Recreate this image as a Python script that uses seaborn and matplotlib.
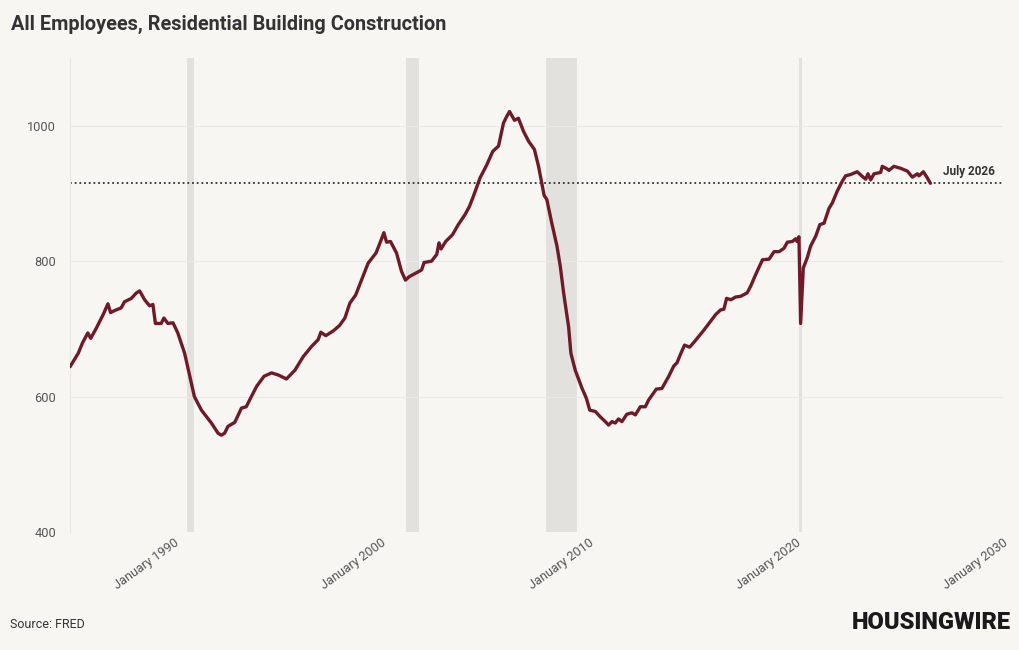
import numpy as np
import pandas as pd
import matplotlib
matplotlib.use("Agg")
import matplotlib.pyplot as plt
import seaborn as sns

# values (decimal year, thousands of employees)
years = [
    1985.00, 1985.40, 1985.60, 1985.86, 1986.00, 1986.27, 1986.60, 1986.83, 1986.96, 1987.15,
    1987.47, 1987.63, 1987.96, 1988.20, 1988.36, 1988.60, 1988.84, 1989.00, 1989.12, 1989.40,
    1989.53, 1989.72, 1989.97, 1990.20, 1990.53, 1990.85, 1991.00, 1991.34, 1991.82, 1992.14,
    1992.30, 1992.46, 1992.62, 1992.95, 1993.27, 1993.50, 1993.83, 1994.00, 1994.36, 1994.72,
    1995.04, 1995.44, 1995.85, 1996.25, 1996.65, 1996.97, 1997.10, 1997.34, 1997.70, 1998.00,
    1998.26, 1998.50, 1998.78, 1999.06, 1999.38, 1999.76, 1999.98, 2000.14, 2000.27, 2000.46,
    2000.75, 2000.99, 2001.18, 2001.36, 2001.72, 2001.96, 2002.08, 2002.44, 2002.69, 2002.80,
    2002.90, 2003.12, 2003.45, 2003.73, 2004.06, 2004.27, 2004.46, 2004.78, 2005.10, 2005.39,
    2005.67, 2005.91, 2006.07, 2006.20, 2006.44, 2006.63, 2006.87, 2007.12, 2007.40, 2007.60,
    2007.76, 2007.87, 2008.00, 2008.24, 2008.49, 2008.65, 2008.81, 2009.05, 2009.16, 2009.37,
    2009.70, 2009.90, 2010.07, 2010.34, 2010.58, 2010.82, 2010.98, 2011.14, 2011.30, 2011.46,
    2011.62, 2011.86, 2012.10, 2012.27, 2012.51, 2012.75, 2012.91, 2013.28, 2013.55, 2013.88,
    2014.12, 2014.28, 2014.44, 2014.64, 2014.89, 2015.09, 2015.33, 2015.57, 2015.89, 2016.14,
    2016.38, 2016.54, 2016.67, 2016.88, 2017.10, 2017.34, 2017.66, 2017.83, 2018.07, 2018.40,
    2018.72, 2018.96, 2019.20, 2019.44, 2019.60, 2019.84, 2020.00, 2020.07, 2020.16, 2020.24,
    2020.37, 2020.56, 2020.72, 2020.97, 2021.17, 2021.37, 2021.61, 2021.77, 2022.00, 2022.25,
    2022.41, 2022.66, 2022.97, 2023.22, 2023.38, 2023.49, 2023.62, 2023.78, 2024.10, 2024.18,
    2024.42, 2024.50, 2024.74, 2025.07, 2025.39, 2025.63, 2025.87, 2025.95, 2026.16, 2026.33,
    2026.50,
]
employees = [
    644, 664, 679, 694, 686, 701, 721, 737, 724, 727,
    731, 740, 745, 753, 756, 743, 734, 736, 708, 708,
    716, 708, 709, 694, 664, 620, 600, 580, 561, 546,
    543, 546, 556, 562, 583, 585, 605, 615, 630, 635,
    632, 626, 639, 659, 674, 684, 695, 690, 697, 705,
    716, 738, 750, 772, 797, 812, 829, 842, 828, 829,
    812, 785, 772, 777, 783, 787, 798, 800, 810, 827,
    818, 829, 839, 854, 869, 881, 896, 923, 942, 962,
    970, 1004, 1014, 1021, 1008, 1011, 992, 977, 965, 940,
    915, 897, 891, 856, 822, 792, 753, 703, 664, 639,
    612, 598, 580, 578, 570, 563, 558, 563, 561, 567,
    563, 574, 576, 573, 585, 585, 595, 611, 612, 630,
    645, 650, 662, 676, 673, 680, 689, 698, 711, 721,
    728, 729, 745, 743, 747, 748, 753, 763, 780, 802,
    803, 814, 814, 819, 828, 829, 833, 829, 836, 708,
    790, 805, 822, 837, 854, 856, 878, 886, 903, 918,
    926, 928, 932, 925, 921, 929, 920, 929, 931, 940,
    936, 934, 940, 937, 933, 924, 929, 926, 932, 924,
    915,
]

recession_start = [1990.66, 2001.20, 2007.95, 2020.15]
recession_end = [1991.00, 2001.83, 2009.45, 2020.32]

tick_years = [1990, 2000, 2010, 2020, 2030]
tick_labels = ["January " + str(y) for y in tick_years]
y_ticks = [400, 600, 800, 1000]

latest_label = "July 2026"

bg = "#f7f6f3"
line_color = "#6f1a28"

sns.set_theme(style="white")
plt.rcParams["font.family"] = ["Roboto", "DejaVu Sans"]

df = pd.DataFrame({"year": years, "employees": employees})

fig = plt.figure(figsize=(10.2, 6.5), dpi=100, facecolor=bg)
ax = fig.add_axes([0.0686, 0.1815, 0.9147, 0.7293])
ax.set_facecolor(bg)

for s, e in zip(recession_start, recession_end):
    ax.axvspan(s, e, color="#e2e1de", lw=0, zorder=0)

for yv in y_ticks:
    ax.axhline(yv, color="#ebe9e5", lw=0.8, zorder=0.5)

sns.lineplot(data=df, x="year", y="employees", color=line_color, lw=2.4, ax=ax, zorder=3)

last_val = employees[-1]
ax.axhline(last_val, color="#333333", lw=1.3, ls=(0, (1, 1.6)), zorder=2)
ax.text(2029.6, last_val + 8, latest_label, ha="right", va="bottom",
        fontsize=8.5, fontweight="bold", color="#333333")

ax.set_xlim(1985, 2030)
ax.set_ylim(400, 1100)
ax.set_xticks(tick_years)
ax.set_xticklabels(tick_labels, rotation=36, ha="right", rotation_mode="anchor",
                   fontsize=9.2, color="#555555")
ax.set_yticks(y_ticks)
ax.set_yticklabels([str(v) for v in y_ticks], fontsize=9.2, color="#555555")
ax.tick_params(axis="x", length=3, color="#e6e4e0", pad=0)
ax.tick_params(axis="y", length=0, pad=10)
ax.set_xlabel("")
ax.set_ylabel("")
for side in ["top", "right", "bottom"]:
    ax.spines[side].set_visible(False)
ax.spines["left"].set_color("#e8e6e2")
ax.spines["left"].set_linewidth(0.8)

fig.text(0.011, 0.962, "All Employees, Residential Building Construction",
         fontsize=14.3, fontweight="bold", color="#333333", ha="left", va="center")
fig.text(0.010, 0.040, "Source: FRED", fontsize=9, color="#333333", ha="left", va="center")
fig.text(0.991, 0.043, "HOUSINGWIRE", fontsize=17, fontweight="black", color="#1a1a1a",
         ha="right", va="center")

fig.savefig("out.png", dpi=100, facecolor=bg)
